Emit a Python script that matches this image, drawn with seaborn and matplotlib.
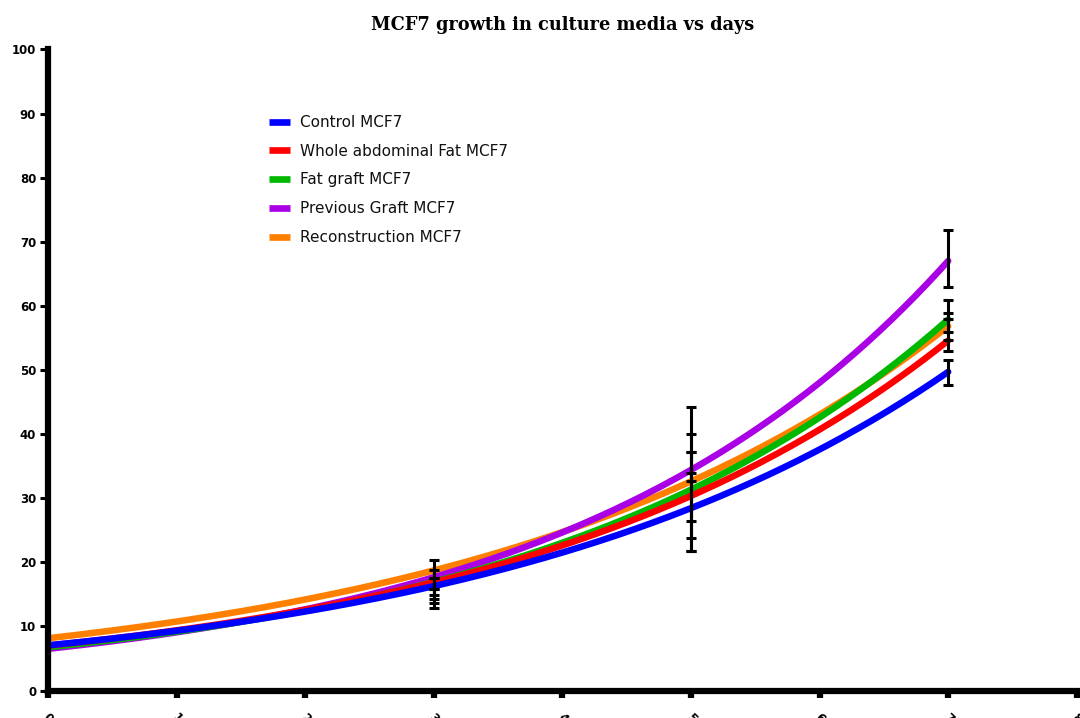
import numpy as np
import pandas as pd
import matplotlib
matplotlib.use("Agg")
import matplotlib.pyplot as plt
from matplotlib.lines import Line2D
import seaborn as sns

# --- data -------------------------------------------------------------
groups = ["Control MCF7", "Whole abdominal Fat MCF7", "Fat graft MCF7",
          "Previous Graft MCF7", "Reconstruction MCF7"]
colors = ["#0000FF", "#FF0000", "#00B800", "#AA00E6", "#FF8000"]

# exponential growth fit per group: Y = Y0 * exp(K * day)
fit_y0 = [7.05, 7.0, 6.75, 6.5, 8.15]
fit_k = [0.279, 0.2934, 0.307, 0.3333, 0.2774]

# measured days with mean and SD per group
days = [3, 5, 7]
mean_control = [14.35, 27.85, 49.6]
sd_control = [1.55, 6.15, 2.0]
mean_whole = [15.9, 29.45, 55.5]
sd_whole = [1.7, 7.75, 2.5]
mean_fatgraft = [15.65, 34.95, 58.45]
sd_fatgraft = [1.95, 2.25, 2.45]
mean_previous = [16.85, 35.35, 67.4]
sd_previous = [1.95, 8.85, 4.4]
mean_recon = [18.15, 31.9, 56.75]
sd_recon = [2.25, 8.1, 2.15]

x_ticks = [0, 1, 2, 3, 4, 5, 6, 7, 8]
y_ticks = [0, 10, 20, 30, 40, 50, 60, 70, 80, 90, 100]

# --- build fitted curves ---------------------------------------------
day_grid = np.linspace(0, 7, 300)
rows = []
for g, y0, k in zip(groups, fit_y0, fit_k):
    for d, v in zip(day_grid, y0 * np.exp(k * day_grid)):
        rows.append((g, d, v))
curves = pd.DataFrame(rows, columns=["group", "day", "growth"])

palette = dict(zip(groups, colors))
draw_order = ["Reconstruction MCF7", "Previous Graft MCF7", "Fat graft MCF7",
              "Whole abdominal Fat MCF7", "Control MCF7"]

sns.set_style("ticks")
plt.rcParams["font.family"] = ["DejaVu Sans"]
plt.rcParams["text.color"] = "black"

fig = plt.figure(figsize=(10.8, 7.18), dpi=100)
ax = fig.add_axes([0.0444, 0.0383, 0.9526, 0.8928])

sns.lineplot(data=curves, x="day", y="growth", hue="group",
             hue_order=draw_order, palette=palette, linewidth=4.7,
             legend=False, ax=ax, estimator=None, sort=True)

for m, s in [(mean_recon, sd_recon), (mean_previous, sd_previous),
             (mean_fatgraft, sd_fatgraft), (mean_whole, sd_whole),
             (mean_control, sd_control)]:
    ax.errorbar(days, m, yerr=s, fmt="none", ecolor="black",
                elinewidth=2.2, capsize=3.3, capthick=2.2, zorder=5)

# --- axes styling ----------------------------------------------------
ax.set_xlim(0, 8)
ax.set_ylim(0, 100)
ax.set_xticks(x_ticks)
ax.set_yticks(y_ticks)
ax.set_xlabel("")
ax.set_ylabel("")
for side in ("top", "right"):
    ax.spines[side].set_visible(False)
for side in ("left", "bottom"):
    ax.spines[side].set_linewidth(4.5)
    ax.spines[side].set_color("black")

ax.tick_params(axis="y", length=6, width=2.2, pad=2.5, direction="out",
               labelsize=8.5, colors="black")
ax.tick_params(axis="x", length=5, width=4.5, pad=10, direction="out",
               labelsize=8.5, colors="black")
for lab in ax.get_yticklabels():
    lab.set_fontweight("bold")
for lab in ax.get_xticklabels():
    lab.set_fontweight("bold")
    lab.set_rotation(-45)
    lab.set_ha("center")

handles = [Line2D([0], [0], color=c, linewidth=4.8, solid_capstyle="butt")
           for c in colors]
leg = ax.legend(handles, groups, loc="upper left",
                bbox_to_anchor=(0.2148, 0.898), frameon=False, fontsize=11,
                handlelength=1.4, handletextpad=0.65, labelspacing=0.9,
                borderpad=0, borderaxespad=0)
for t in leg.get_texts():
    t.set_color("#111111")

ax.set_title("MCF7 growth in culture media vs days", pad=14, color="black",
             fontfamily="DejaVu Serif", fontweight="bold", fontsize=12.8)

fig.savefig("out.png", dpi=100)
